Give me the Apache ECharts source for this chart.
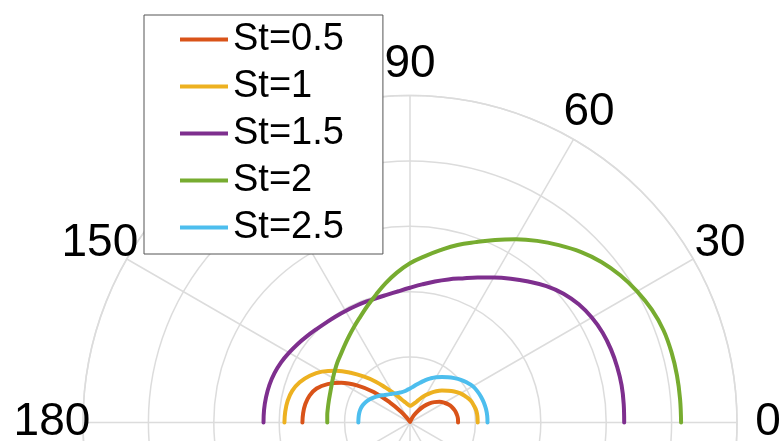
<!DOCTYPE html>
<html>
<head>
<meta charset="utf-8">
<script src="https://cdn.jsdelivr.net/npm/echarts@6/dist/echarts.min.js"></script>
<style>
  html, body { margin: 0; padding: 0; background: #ffffff; }
  #chart { width: 782px; height: 441px; }
</style>
</head>
<body>
<div id="chart"></div>
<script>
// Polar angle (degrees) at which each curve is sampled
const angles = [0, 5, 10, 15, 20, 25, 30, 35, 40, 45, 50, 55, 60, 65, 70, 75, 80, 85, 90,
                95, 100, 105, 110, 115, 120, 125, 130, 135, 140, 145, 150, 155, 160, 165, 170, 175, 180];

// Radial magnitude of each Strouhal-number curve at the angles above
const st05 = [0.147, 0.147, 0.145, 0.142, 0.137, 0.130, 0.121, 0.110, 0.097, 0.082, 0.064, 0.045, 0.028, 0.014, 0.006, 0.002, 0.000, 0.000, 0.000,
              0.000, 0.000, 0.000, 0.001, 0.003, 0.008, 0.020, 0.045, 0.085, 0.145, 0.198, 0.243, 0.278, 0.304, 0.318, 0.325, 0.328, 0.329];
const st1  = [0.207, 0.207, 0.206, 0.202, 0.197, 0.188, 0.178, 0.165, 0.151, 0.138, 0.125, 0.111, 0.097, 0.084, 0.072, 0.063, 0.057, 0.053, 0.051,
              0.054, 0.059, 0.066, 0.075, 0.088, 0.106, 0.130, 0.163, 0.198, 0.237, 0.276, 0.311, 0.338, 0.359, 0.373, 0.380, 0.383, 0.384];
const st15 = [0.655, 0.656, 0.657, 0.656, 0.654, 0.650, 0.642, 0.630, 0.613, 0.590, 0.563, 0.537, 0.512, 0.489, 0.469, 0.453, 0.438, 0.424, 0.412,
              0.403, 0.397, 0.394, 0.393, 0.393, 0.394, 0.396, 0.399, 0.404, 0.411, 0.419, 0.427, 0.435, 0.441, 0.445, 0.447, 0.448, 0.448];
const st2  = [0.829, 0.829, 0.829, 0.828, 0.825, 0.816, 0.802, 0.785, 0.764, 0.738, 0.708, 0.678, 0.647, 0.616, 0.587, 0.562, 0.535, 0.510, 0.487,
              0.460, 0.432, 0.404, 0.380, 0.358, 0.340, 0.324, 0.310, 0.298, 0.289, 0.280, 0.272, 0.265, 0.260, 0.257, 0.255, 0.254, 0.253];
const st25 = [0.237, 0.237, 0.236, 0.234, 0.231, 0.227, 0.222, 0.213, 0.203, 0.192, 0.181, 0.170, 0.160, 0.149, 0.138, 0.127, 0.118, 0.110, 0.104,
              0.100, 0.097, 0.096, 0.097, 0.099, 0.102, 0.106, 0.111, 0.118, 0.126, 0.134, 0.142, 0.149, 0.154, 0.157, 0.158, 0.158, 0.158];

const seriesNames  = ['St=0.5', 'St=1', 'St=1.5', 'St=2', 'St=2.5'];
const seriesValues = [st05, st1, st15, st2, st25];
const seriesColors = ['#D95319', '#EDB120', '#7E2F8E', '#77AC30', '#4DBEEE'];

// Angular tick marks and their labels
const thetaTicks = [0, 30, 60, 90, 120, 150, 180, 210, 240, 270, 300, 330];
const thetaTickLabels = ['0', '30', '60', '90', '120', '150', '180', '210', '240', '270', '300', '330'];

const FONT = "'Liberation Sans', Arial, Helvetica, sans-serif";
const GRID_COLOR = '#dcdcdc';
const R_MAX = 1.0;
const LABEL_R = 1.095; // theta labels are centred just outside the outer ring

const chart = echarts.init(document.getElementById('chart'), null, { renderer: 'canvas' });

const curveSeries = seriesNames.map((name, k) => ({
  name: name,
  type: 'line',
  coordinateSystem: 'polar',
  data: angles.map((a, i) => [seriesValues[k][i], a]),
  symbol: 'none',
  smooth: 0.4,
  lineStyle: { width: 4, color: seriesColors[k], cap: 'round', join: 'round' },
  itemStyle: { color: seriesColors[k] },
  emphasis: { disabled: true },
  silent: true,
  z: 3 + k
}));

// Theta tick labels, placed on a ring just beyond the outer grid circle
const tickLabelSeries = {
  name: 'theta-labels',
  type: 'scatter',
  coordinateSystem: 'polar',
  clip: false,
  silent: true,
  symbol: 'circle',
  symbolSize: 1,
  itemStyle: { color: '#ffffff', opacity: 1 },
  data: thetaTicks.map((a, i) => [LABEL_R, a, thetaTickLabels[i]]),
  label: {
    show: true,
    position: [0.5, 0.5],
    formatter: p => p.data[2],
    color: '#000000',
    opacity: 1,
    textBorderWidth: 0,
    fontSize: 46,
    fontFamily: FONT,
    align: 'center',
    verticalAlign: 'middle'
  },
  emphasis: { disabled: true },
  z: 1
};

chart.setOption({
  animation: false,
  backgroundColor: '#ffffff',
  polar: {
    center: [410, 422.5],
    radius: 327
  },
  angleAxis: {
    type: 'value',
    min: 0,
    max: 360,
    interval: 30,
    startAngle: 0,
    clockwise: false,
    axisLine: { show: true, lineStyle: { color: GRID_COLOR, width: 1.5 } },
    axisTick: { show: false },
    axisLabel: { show: false },
    splitLine: { show: true, lineStyle: { color: GRID_COLOR, width: 1.5 } }
  },
  radiusAxis: {
    type: 'value',
    min: 0,
    max: R_MAX,
    interval: 0.2,
    axisLine: { show: false },
    axisTick: { show: false },
    axisLabel: { show: false },
    splitLine: { show: true, lineStyle: { color: GRID_COLOR, width: 1.5 } }
  },
  legend: {
    data: seriesNames,
    orient: 'vertical',
    left: 144,
    top: 15,
    padding: [1, 39, 3, 36],
    itemGap: 0,
    itemWidth: 48,
    itemHeight: 4,
    icon: 'rect',
    selectedMode: false,
    backgroundColor: '#ffffff',
    borderColor: '#555555',
    borderWidth: 1,
    textStyle: { fontSize: 38, fontFamily: FONT, color: '#000000', lineHeight: 47 },
    z: 10
  },
  series: [tickLabelSeries].concat(curveSeries)
});
</script>
</body>
</html>
